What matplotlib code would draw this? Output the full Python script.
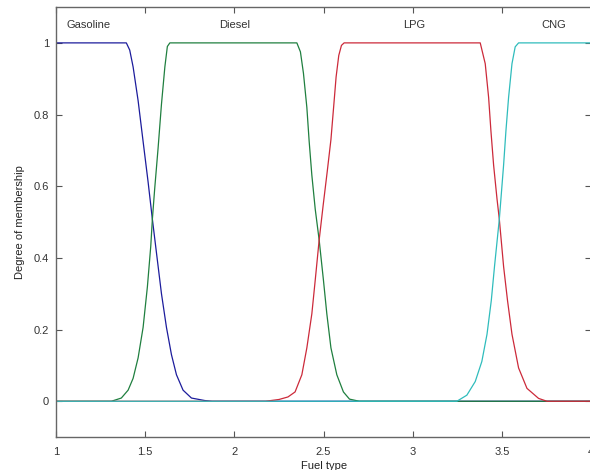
import matplotlib
matplotlib.use('Agg')
import matplotlib.pyplot as plt

plt.rcParams['font.family'] = ['Liberation Sans', 'DejaVu Sans']
plt.rcParams['font.size'] = 8

# membership curves (fuel type -> degree of membership)
gasoline_x = [1.0, 1.394, 1.413, 1.432, 1.460, 1.488, 1.516, 1.540, 1.563, 1.591,
              1.619, 1.647, 1.675, 1.712, 1.759, 1.834, 1.875, 4.0]
gasoline_y = [1.0, 1.0, 0.980, 0.933, 0.839, 0.725, 0.612, 0.508, 0.414, 0.300,
              0.206, 0.130, 0.074, 0.031, 0.009, 0.002, 0.0, 0.0]

diesel_x = [1.0, 1.310, 1.366, 1.404, 1.432, 1.460, 1.488, 1.512, 1.531, 1.540,
            1.553, 1.572, 1.591, 1.610, 1.624, 1.638,
            2.350, 2.370, 2.387, 2.406, 2.419, 2.434, 2.453, 2.475, 2.499, 2.518,
            2.541, 2.574, 2.611, 2.645, 2.700, 4.0]
diesel_y = [0.0, 0.0, 0.009, 0.031, 0.064, 0.121, 0.206, 0.319, 0.433, 0.508,
            0.593, 0.706, 0.829, 0.933, 0.990, 1.0,
            1.0, 0.975, 0.915, 0.820, 0.725, 0.631, 0.536, 0.450, 0.338, 0.244,
            0.149, 0.074, 0.026, 0.006, 0.0, 0.0]

lpg_x = [1.0, 2.174, 2.250, 2.300, 2.340, 2.378, 2.406, 2.434, 2.453, 2.475,
         2.497, 2.520, 2.541, 2.556, 2.570, 2.585, 2.600, 2.615,
         3.378, 3.406, 3.425, 3.438, 3.453, 3.472, 3.485, 3.509, 3.531, 3.556,
         3.593, 3.640, 3.705, 3.752, 4.0]
lpg_y = [0.0, 0.0, 0.005, 0.012, 0.026, 0.074, 0.149, 0.244, 0.338, 0.450,
         0.545, 0.640, 0.730, 0.820, 0.905, 0.965, 0.993, 1.0,
         1.0, 0.942, 0.848, 0.754, 0.659, 0.565, 0.508, 0.376, 0.281, 0.187,
         0.093, 0.036, 0.008, 0.0, 0.0]

cng_x = [1.0, 3.247, 3.303, 3.350, 3.387, 3.416, 3.440, 3.458, 3.485, 3.509,
         3.522, 3.537, 3.556, 3.574, 3.593, 4.0]
cng_y = [0.0, 0.0, 0.017, 0.055, 0.111, 0.187, 0.281, 0.376, 0.508, 0.659,
         0.754, 0.848, 0.942, 0.989, 1.0, 1.0]

mf_names = ['Gasoline', 'Diesel', 'LPG', 'CNG']
name_pos = [1.18, 2.0, 3.005, 3.79]
mf_colors = ['#1c1c9c', '#1f7f3f', '#cc2a3a', '#2fbcbc']

fig = plt.figure(figsize=(5.9, 4.7), dpi=100)
ax = fig.add_axes([0.095, 0.070, 0.907, 0.915])

curves = [(gasoline_x, gasoline_y), (diesel_x, diesel_y),
          (lpg_x, lpg_y), (cng_x, cng_y)]
for (xs, ys), c in zip(curves, mf_colors):
    ax.plot(xs, ys, color=c, linewidth=0.9)

for name, xp in zip(mf_names, name_pos):
    ax.text(xp, 1.05, name, ha='center', va='center', color='#333333', fontsize=8)

ax.set_xlim(1, 4)
ax.set_ylim(-0.1, 1.1)
ax.set_xticks([1, 1.5, 2, 2.5, 3, 3.5, 4])
ax.set_xticklabels(['1', '1.5', '2', '2.5', '3', '3.5', '4'])
ax.set_yticks([0, 0.2, 0.4, 0.6, 0.8, 1])
ax.set_yticklabels(['0', '0.2', '0.4', '0.6', '0.8', '1'])
ax.tick_params(direction='in', top=True, right=True, length=4, width=0.8,
               color='#555555', labelcolor='#333333', labelsize=8)
ax.tick_params(axis='x', pad=7)
ax.tick_params(axis='y', pad=5)
for sp in ax.spines.values():
    sp.set_color('#666666')
    sp.set_linewidth(1.0)

ax.set_xlabel('Fuel type', color='#222222', fontsize=8, labelpad=3)
ax.set_ylabel('Degree of membership', color='#222222', fontsize=8, labelpad=6)

fig.savefig('out.png', dpi=100, facecolor='white')
